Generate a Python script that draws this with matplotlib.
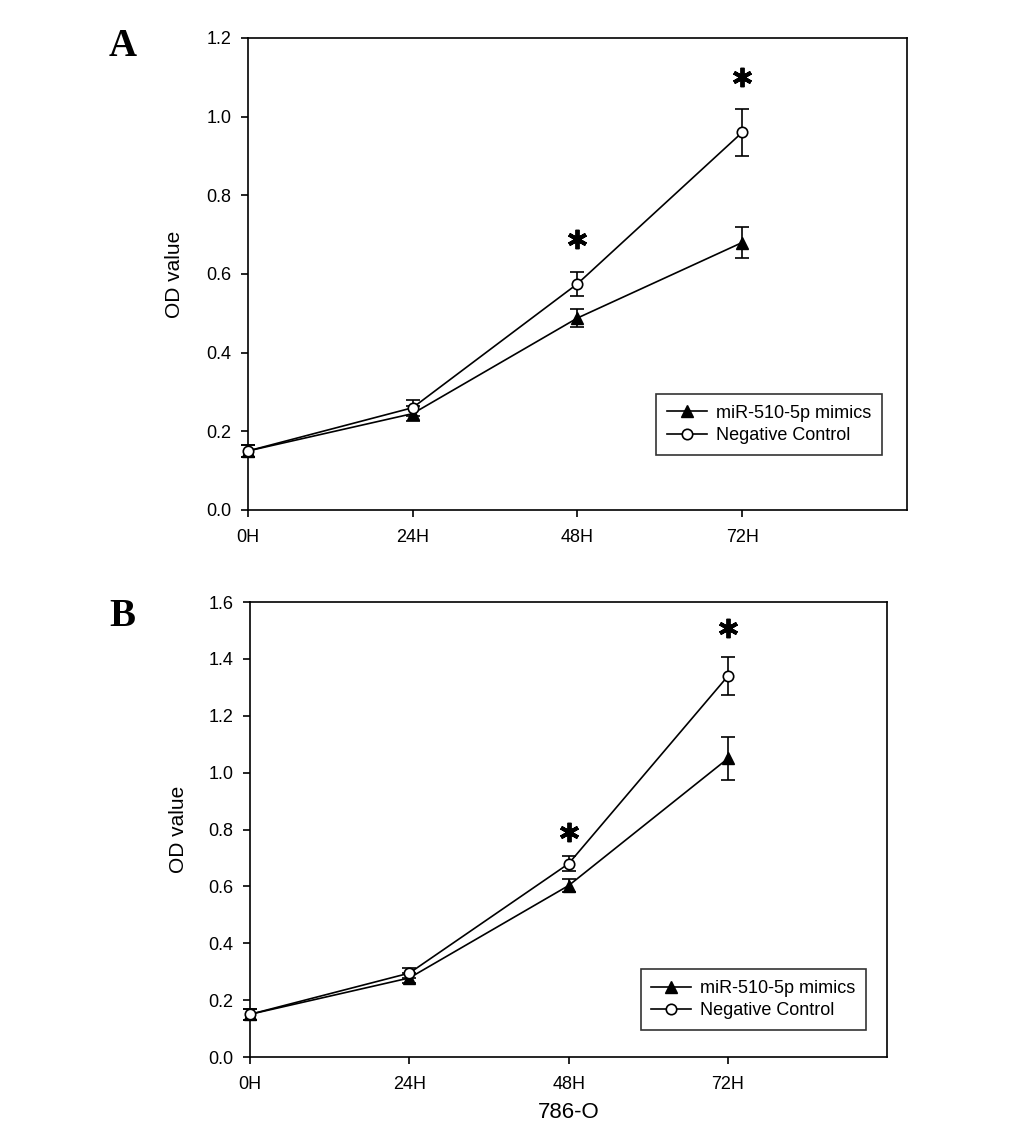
import numpy as np
import matplotlib
matplotlib.use("Agg")
import matplotlib.pyplot as plt
from matplotlib.lines import Line2D

plt.rcParams['font.family'] = ['Liberation Sans', 'DejaVu Sans']

# time points
hours = ['0H', '24H', '48H', '72H']

# panel A
a_mimics = [0.15, 0.245, 0.488, 0.68]
a_mimics_err = [0.015, 0.02, 0.022, 0.04]
a_nc = [0.15, 0.26, 0.575, 0.96]
a_nc_err = [0.015, 0.02, 0.03, 0.06]
a_star_idx = [2, 3]
a_star_y = [0.69, 1.10]

# panel B
b_mimics = [0.15, 0.278, 0.603, 1.05]
b_mimics_err = [0.02, 0.018, 0.022, 0.077]
b_nc = [0.15, 0.295, 0.68, 1.34]
b_nc_err = [0.02, 0.018, 0.027, 0.068]
b_star_idx = [2, 3]
b_star_y = [0.79, 1.51]

fig = plt.figure(figsize=(10.33, 11.34), dpi=100)
axA = fig.add_axes([0.240, 0.5503, 0.638, 0.4162])
axB = fig.add_axes([0.242, 0.0679, 0.617, 0.4012])


def draw(ax, mimics, mimics_err, nc, nc_err, star_idx, star_y, ymax, yticks, leg_anchor):
    x = np.arange(len(hours))
    c1 = ax.errorbar(x, mimics, yerr=mimics_err, color='black', lw=1.2, marker='^', ms=8,
                     mfc='black', mec='black', capsize=5, capthick=1.2, elinewidth=1.2,
                     zorder=3)
    c2 = ax.errorbar(x, nc, yerr=nc_err, color='black', lw=1.2, marker='o', ms=7.5,
                     mfc='white', mec='black', mew=1.2, capsize=5, capthick=1.2,
                     elinewidth=1.2, zorder=4)
    for c in (c1, c2):
        for art in c.get_children():
            art.set_clip_on(False)
    # significance asterisks
    sx = [x[i] for i in star_idx]
    ax.plot(sx, star_y, ls='none', marker=(6, 2, 0), ms=14, mew=2.8,
            color='black', clip_on=False)
    ax.set_xlim(0, 4)
    ax.set_ylim(0, ymax)
    ax.set_xticks(x)
    ax.set_xticklabels(hours)
    ax.set_yticks(yticks)
    ax.set_yticklabels(['%.1f' % t for t in yticks])
    ax.tick_params(direction='out', length=5, width=1.2, labelsize=13,
                   top=False, right=False)
    ax.tick_params(axis='x', pad=9)
    ax.tick_params(axis='y', pad=7)
    for s in ax.spines.values():
        s.set_linewidth(1.2)
    ax.set_ylabel('OD value', fontsize=15)
    ax.yaxis.set_label_coords(-0.097, 0.5)
    handles = [
        Line2D([], [], color='black', lw=1.2, marker='^', ms=8, mfc='black'),
        Line2D([], [], color='black', lw=1.2, marker='o', ms=7.5, mfc='white', mew=1.2),
    ]
    leg = ax.legend(handles, ['miR-510-5p mimics', 'Negative Control'],
                    loc='lower right', bbox_to_anchor=leg_anchor, borderaxespad=0,
                    fontsize=13, frameon=True, fancybox=False, edgecolor='black',
                    handlelength=2.2, borderpad=0.6, labelspacing=0.3,
                    handletextpad=0.5)
    leg.get_frame().set_linewidth(1.2)


draw(axA, a_mimics, a_mimics_err, a_nc, a_nc_err, a_star_idx, a_star_y,
     1.2, np.arange(0, 1.21, 0.2), (0.962, 0.1165))
draw(axB, b_mimics, b_mimics_err, b_nc, b_nc_err, b_star_idx, b_star_y,
     1.6, np.arange(0, 1.61, 0.2), (0.967, 0.059))

axB.set_xlabel('786-O', fontsize=16)
axB.xaxis.set_label_coords(0.5, -0.1)

fig.text(0.119, 0.959, 'A', fontsize=28, fontweight='bold', family='Liberation Serif',
         ha='center', va='center')
fig.text(0.118, 0.456, 'B', fontsize=28, fontweight='bold', family='Liberation Serif',
         ha='center', va='center')

fig.savefig('out.png', dpi=100)
